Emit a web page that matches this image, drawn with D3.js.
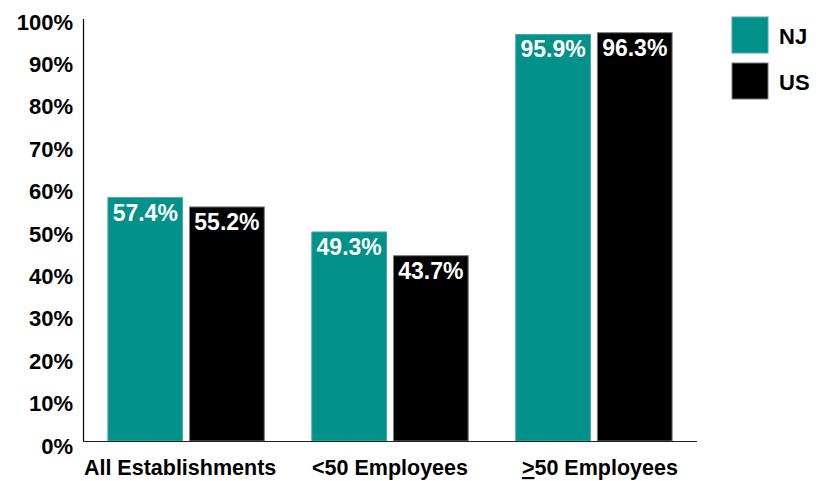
<!DOCTYPE html>
<html>
<head>
<meta charset="utf-8">
<script src="https://cdn.jsdelivr.net/npm/d3@7"></script>
<style>
  html, body { margin: 0; padding: 0; background: #fff; }
  svg { display: block; font-family: "Liberation Sans", Arial, sans-serif; font-weight: bold; }
</style>
</head>
<body>
<svg id="chart" width="829" height="481"></svg>
<script>
// Share of establishments, NJ vs US, by establishment size
const categories = ["All Establishments", "<50 Employees", ">50 Employees"];
const seriesNames = ["NJ", "US"];
const njValues = [57.4, 49.3, 95.9];
const usValues = [55.2, 43.7, 96.3];
const yTicks = [0, 10, 20, 30, 40, 50, 60, 70, 80, 90, 100];

const colors = { NJ: "#00918a", US: "#000000" };
const strokes = { NJ: "#4aa9a3", US: "#7a7a7a" };

const svg = d3.select("#chart");

const plotLeft = 83, plotRight = 697, plotBottom = 441, plotTop = 17;

const y = d3.scaleLinear().domain([0, 100]).range([plotBottom, plotTop]);

const x0 = d3.scaleBand()
  .domain(categories)
  .range([plotLeft, plotRight])
  .paddingInner(0.233)
  .paddingOuter(0.122);

const x1 = d3.scaleBand()
  .domain(seriesNames)
  .range([0, x0.bandwidth()])
  .paddingInner(0.085)
  .paddingOuter(0);

const rows = categories.map((c, i) => ({
  category: c,
  values: [
    { series: "NJ", value: njValues[i] },
    { series: "US", value: usValues[i] }
  ]
}));

// Bars
const groups = svg.append("g")
  .selectAll("g")
  .data(rows)
  .join("g")
  .attr("transform", d => `translate(${x0(d.category)},0)`);

groups.selectAll("rect")
  .data(d => d.values)
  .join("rect")
  .attr("x", d => x1(d.series))
  .attr("y", d => y(d.value))
  .attr("width", x1.bandwidth())
  .attr("height", d => y(0) - y(d.value))
  .attr("fill", d => colors[d.series])
  .attr("stroke", d => strokes[d.series])
  .attr("stroke-width", 1);

// Value labels inside the top of each bar
groups.selectAll("text")
  .data(d => d.values)
  .join("text")
  .attr("x", d => x1(d.series) + x1.bandwidth() / 2)
  .attr("y", d => y(d.value) + 23)
  .attr("text-anchor", "middle")
  .attr("fill", "#fff")
  .attr("font-size", 23)
  .text(d => d.value.toFixed(1) + "%");

// Y axis
const yAxis = d3.axisLeft(y)
  .tickValues(yTicks)
  .tickSize(0)
  .tickPadding(10)
  .tickFormat(d => d + "%");

const yg = svg.append("g")
  .attr("transform", `translate(${plotLeft},0)`)
  .call(yAxis);
yg.select(".domain")
  .attr("d", `M0.5,${y(100) + 2}V${plotBottom}`)
  .attr("stroke", "#000")
  .attr("stroke-width", 1.2);
yg.selectAll(".tick text")
  .attr("fill", "#000")
  .attr("font-size", 22)
  .attr("font-family", "Liberation Sans, Arial, sans-serif")
  .attr("font-weight", "bold")
  .attr("dy", "0.55em")
  .attr("x", -10);

// X axis
const xAxis = d3.axisBottom(x0).tickSize(0).tickPadding(0).tickFormat("");
const xg = svg.append("g")
  .attr("transform", `translate(0,${plotBottom})`)
  .call(xAxis);
xg.select(".domain")
  .attr("d", `M${plotLeft},0.5H${plotRight}`)
  .attr("stroke", "#222")
  .attr("stroke-width", 1.2);

// Category labels, spread slightly outward from the group centres;
// the third one uses an underlined ">" for "greater than or equal"
const catLabels = svg.append("g")
  .selectAll("text")
  .data(categories)
  .join("text")
  .attr("x", (d, i) => x0(d) + x0.bandwidth() / 2 + (i - 1) * 6)
  .attr("y", 475)
  .attr("text-anchor", "middle")
  .attr("font-size", 21.5)
  .attr("fill", "#000");

catLabels.each(function(d) {
  const t = d3.select(this);
  if (d.startsWith(">")) {
    t.append("tspan").attr("text-decoration", "underline").text(">");
    t.append("tspan").text(d.slice(1));
  } else {
    t.text(d);
  }
});

// Legend
const legend = svg.append("g")
  .selectAll("g")
  .data(seriesNames)
  .join("g")
  .attr("transform", (d, i) => `translate(732,${17 + i * 46})`);

legend.append("rect")
  .attr("width", 36)
  .attr("height", 36)
  .attr("fill", d => colors[d])
  .attr("stroke", d => strokes[d])
  .attr("stroke-width", 1);

legend.append("text")
  .attr("x", 47)
  .attr("y", 27)
  .attr("font-size", 22)
  .attr("fill", "#000")
  .text(d => d);
</script>
</body>
</html>
